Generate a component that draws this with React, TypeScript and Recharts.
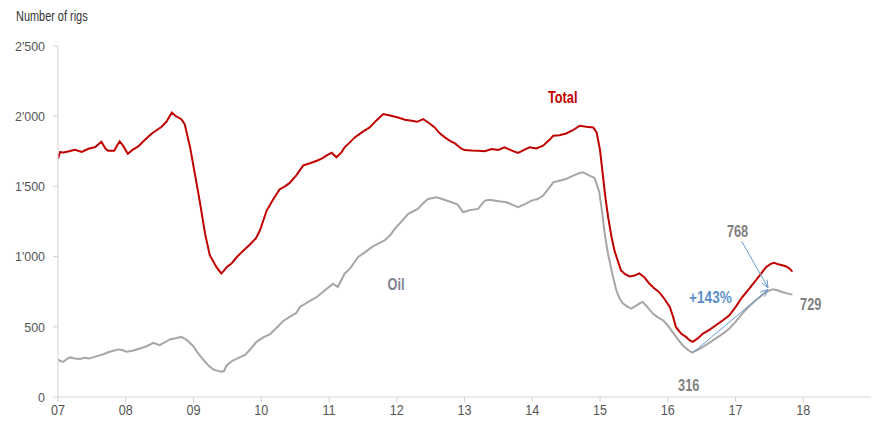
import React from 'react';
import { LineChart, Line, XAxis, YAxis, ReferenceDot, ReferenceLine } from 'recharts';

const FONT = '"Liberation Sans", Arial, sans-serif';

const xTicks = [2007, 2008, 2009, 2010, 2011, 2012, 2013, 2014, 2015, 2016, 2017, 2018];
const yTicks = [0, 500, 1000, 1500, 2000, 2500];

const totalYears = [
  2007.0, 2007.03, 2007.08, 2007.15, 2007.25, 2007.35, 2007.45, 2007.55, 2007.64, 2007.7, 2007.74, 2007.83, 2007.87, 2007.91, 2007.96,
  2008.03, 2008.1, 2008.18, 2008.28, 2008.38, 2008.53, 2008.6, 2008.68, 2008.74, 2008.82, 2008.87, 2008.95,
  2009.02, 2009.09, 2009.17, 2009.24, 2009.34, 2009.41, 2009.45, 2009.49, 2009.56, 2009.64, 2009.73, 2009.83, 2009.92, 2009.98,
  2010.08, 2010.18, 2010.27, 2010.35, 2010.42, 2010.52, 2010.62, 2010.72, 2010.82, 2010.9, 2010.96,
  2011.04, 2011.11, 2011.18, 2011.23, 2011.3, 2011.38, 2011.5, 2011.6, 2011.7, 2011.8, 2011.9,
  2012.02, 2012.12, 2012.22, 2012.3, 2012.39, 2012.48, 2012.56, 2012.63, 2012.71, 2012.8, 2012.86, 2012.95,
  2013.0, 2013.1, 2013.2, 2013.3, 2013.4, 2013.5, 2013.59, 2013.7, 2013.79, 2013.88, 2013.96,
  2014.06, 2014.16, 2014.25, 2014.31, 2014.4, 2014.5, 2014.6, 2014.7, 2014.8, 2014.9, 2014.95,
  2015.0, 2015.04, 2015.08, 2015.12, 2015.17, 2015.22, 2015.27, 2015.31, 2015.37, 2015.44, 2015.51, 2015.58, 2015.65, 2015.73, 2015.8, 2015.87, 2015.95,
  2016.03, 2016.08, 2016.12, 2016.2, 2016.27, 2016.32, 2016.37, 2016.45, 2016.52, 2016.62, 2016.71, 2016.81, 2016.91,
  2017.0, 2017.1, 2017.2, 2017.3, 2017.38, 2017.45, 2017.52, 2017.57, 2017.63, 2017.69, 2017.75, 2017.8, 2017.84,
];
const totalRigs = [
  1697, 1745, 1742, 1749, 1760, 1745, 1768, 1780, 1818, 1770, 1754, 1754, 1790, 1820, 1790,
  1733, 1760, 1783, 1830, 1875, 1925, 1960, 2026, 2000, 1979, 1944, 1778,
  1589, 1400, 1165, 1010, 925, 880, 900, 925, 950, 997, 1040, 1085, 1130, 1186,
  1328, 1410, 1478, 1500, 1525, 1580, 1650, 1665, 1683, 1700, 1719,
  1740, 1707, 1740, 1778, 1810, 1849, 1890, 1920, 1970, 2015, 2005,
  1991, 1975, 1967, 1960, 1979, 1950, 1920, 1880, 1849, 1820, 1806, 1770,
  1759, 1755, 1754, 1750, 1766, 1760, 1778, 1755, 1738, 1760, 1778,
  1770, 1790, 1830, 1861, 1865, 1877, 1900, 1932, 1925, 1920, 1885,
  1760, 1589, 1420, 1281, 1140, 1032, 960, 902, 875, 859, 865, 880, 855, 807, 775, 748, 700,
  641, 570, 499, 450, 428, 405, 393, 420, 452, 480, 511, 545, 582,
  640, 712, 770, 831, 880, 925, 948, 956, 945, 938, 930, 914, 893,
];

const oilYears = [
  2007.0, 2007.04, 2007.08, 2007.13, 2007.18, 2007.25, 2007.32, 2007.4, 2007.46, 2007.52, 2007.6, 2007.67, 2007.75, 2007.82, 2007.89, 2007.95,
  2008.01, 2008.1, 2008.21, 2008.3, 2008.41, 2008.5, 2008.58, 2008.65, 2008.75, 2008.82, 2008.88, 2008.92,
  2009.0, 2009.05, 2009.11, 2009.17, 2009.23, 2009.29, 2009.35, 2009.41, 2009.45, 2009.49, 2009.58, 2009.68, 2009.76, 2009.83, 2009.93,
  2010.03, 2010.13, 2010.22, 2010.32, 2010.42, 2010.52, 2010.57, 2010.7, 2010.82, 2010.94,
  2011.06, 2011.13, 2011.23, 2011.31, 2011.43, 2011.53, 2011.63, 2011.72, 2011.82, 2011.9, 2011.97,
  2012.07, 2012.17, 2012.31, 2012.39, 2012.46, 2012.59, 2012.7, 2012.81, 2012.9, 2012.98,
  2013.07, 2013.2, 2013.3, 2013.37, 2013.5, 2013.62, 2013.7, 2013.79, 2013.9, 2013.99,
  2014.08, 2014.16, 2014.25, 2014.31, 2014.4, 2014.5, 2014.62, 2014.7, 2014.75, 2014.83, 2014.92, 2014.99,
  2015.03, 2015.07, 2015.11, 2015.16, 2015.2, 2015.24, 2015.29, 2015.34, 2015.4, 2015.46, 2015.52, 2015.58, 2015.63, 2015.7, 2015.78, 2015.86, 2015.93,
  2016.0, 2016.07, 2016.15, 2016.22, 2016.3, 2016.36, 2016.44, 2016.52, 2016.61, 2016.71, 2016.81, 2016.91,
  2017.0, 2017.1, 2017.2, 2017.3, 2017.38, 2017.45, 2017.55, 2017.62, 2017.69, 2017.76, 2017.84,
];
const oilRigs = [
  268, 255, 251, 270, 282, 275, 270, 280, 275, 282, 295, 305, 320, 330, 339, 335,
  322, 330, 346, 360, 386, 369, 390, 410, 420, 428, 412, 398,
  360, 322, 285, 251, 220, 197, 188, 180, 185, 227, 260, 282, 300, 335, 393,
  425, 447, 490, 540, 570, 600, 641, 680, 712, 760,
  807, 783, 878, 914, 997, 1030, 1067, 1090, 1115, 1150, 1198,
  1250, 1305, 1340, 1380, 1411, 1423, 1405, 1387, 1370, 1316,
  1330, 1340, 1399, 1404, 1395, 1387, 1370, 1352, 1375, 1399,
  1410, 1435, 1490, 1529, 1540, 1553, 1580, 1595, 1600, 1580, 1560, 1458,
  1320, 1162, 1040, 925, 840, 760, 700, 665, 645, 630, 645, 665, 677, 640, 594, 565, 547,
  510, 464, 410, 369, 335, 316, 335, 357, 385, 417, 450, 488,
  535, 594, 645, 689, 720, 748, 768, 760, 748, 738, 729,
];

const totalData = totalYears.map((t, i) => ({ t, v: totalRigs[i] }));
const oilData = oilYears.map((t, i) => ({ t, v: oilRigs[i] }));

const fmtY = (v: number) => (v >= 1000 ? `${Math.floor(v / 1000)}'${String(v % 1000).padStart(3, '0')}` : String(v));
const fmtX = (v: number) => String(Math.round(v) % 100).padStart(2, '0');

const ARROW = '#6a98cc';

const Arrow = (props: any) => {
  const { x1, y1, x2, y2 } = props;
  const ang = Math.atan2(y2 - y1, x2 - x1);
  const L = 8;
  const a1 = ang + Math.PI - 0.4;
  const a2 = ang + Math.PI + 0.4;
  return (
    <g>
      <line x1={x1} y1={y1} x2={x2} y2={y2} stroke={ARROW} strokeWidth={1} />
      <polyline
        points={`${x2 + L * Math.cos(a1)},${y2 + L * Math.sin(a1)} ${x2},${y2} ${x2 + L * Math.cos(a2)},${y2 + L * Math.sin(a2)}`}
        fill="none"
        stroke={ARROW}
        strokeWidth={1}
      />
    </g>
  );
};

const CondText = ({ x, y, text, size, fill, weight = 'normal', anchor = 'middle', sx = 0.75, dy = '0.355em' }: any) => (
  <text
    transform={`translate(${x},${y}) scale(${sx},1)`}
    textAnchor={anchor}
    dy={dy}
    fontSize={size}
    fontWeight={weight}
    fill={fill}
    fontFamily={FONT}
  >
    {text}
  </text>
);

const XTick = (props: any) => {
  const { x, y, payload } = props;
  return <CondText x={x} y={y} text={fmtX(payload.value)} size={14} fill="#555" sx={0.9} dy="0.71em" />;
};
const YTick = (props: any) => {
  const { x, y, payload } = props;
  return <CondText x={x} y={y} text={fmtY(payload.value)} size={13.5} fill="#555" sx={0.92} anchor="end" />;
};

const labelShape = (text: string, fill: string, size = 17, sx = 0.75) => (p: any) => (
  <CondText x={p.cx} y={p.cy} text={text} size={size} fill={fill} weight="bold" sx={sx} />
);

export default function App() {
  return (
    <div style={{ position: 'absolute', left: 0, top: 0, width: 874, height: 424, background: '#fff', fontFamily: FONT }}>
      <div
        style={{
          position: 'absolute',
          left: 16,
          top: 8,
          fontSize: 14,
          color: '#333',
          fontFamily: FONT,
          transform: 'scaleX(0.78)',
          transformOrigin: '0 0',
          whiteSpace: 'nowrap',
        }}
      >
        Number of rigs
      </div>
      <LineChart width={874} height={424} data={totalData} margin={{ top: 46, right: 3, bottom: 5, left: 0 }}>
        <XAxis
          dataKey="t"
          type="number"
          domain={[2007, 2019]}
          ticks={xTicks}
          allowDataOverflow
          height={22}
          stroke="#d4d4d4"
          tickSize={5}
          tickMargin={3}
          tick={XTick}
        />
        <YAxis
          type="number"
          domain={[0, 2500]}
          ticks={yTicks}
          width={58}
          stroke="#d4d4d4"
          tickSize={5}
          tickMargin={8}
          tick={YTick}
        />
        <Line data={oilData} dataKey="v" type="linear" stroke="#a6a6a6" strokeWidth={2} dot={false} isAnimationActive={false} />
        <Line data={totalData} dataKey="v" type="linear" stroke="#c00000" strokeWidth={2} dot={false} isAnimationActive={false} />
        <ReferenceLine segment={[{ x: 2016.37, y: 315 }, { x: 2017.48, y: 765 }]} shape={Arrow} />
        <ReferenceLine segment={[{ x: 2017.09, y: 1110 }, { x: 2017.48, y: 779 }]} shape={Arrow} />
        <ReferenceDot x={2014.45} y={2138} r={0} shape={labelShape('Total', '#c00000')} />
        <ReferenceDot x={2011.99} y={803} r={0} shape={labelShape('Oil', '#80838f')} />
        <ReferenceDot x={2017.03} y={1186} r={0} shape={labelShape('768', '#7f7f7f')} />
        <ReferenceDot x={2018.11} y={660} r={0} shape={labelShape('729', '#7f7f7f')} />
        <ReferenceDot x={2016.31} y={85} r={0} shape={labelShape('316', '#7f7f7f')} />
        <ReferenceDot x={2016.63} y={710} r={0} shape={labelShape('+143%', '#5b8fcb', 17, 0.8)} />
      </LineChart>
    </div>
  );
}
